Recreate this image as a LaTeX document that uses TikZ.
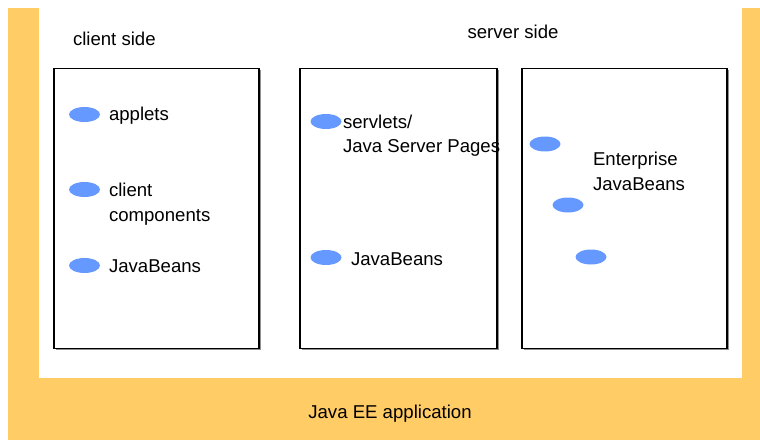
\documentclass[tikz,border=0pt]{standalone}
\usepackage{fontspec}
\setmainfont{Liberation Sans}
\usetikzlibrary{shapes.geometric}
\definecolor{frameorange}{HTML}{FFCC66}
\definecolor{beanblue}{HTML}{6699FF}
\definecolor{shadowgray}{HTML}{909090}
\begin{document}
\begin{tikzpicture}[x=1pt,y=-1pt,
  every node/.style={font=\fontsize{18.6}{24.5}\selectfont, inner sep=0pt, outer sep=0pt},
  lbl/.style={anchor=base west, align=left},
  bean/.style={fill=beanblue, draw=none, ellipse, minimum width=31pt, minimum height=15pt},
  tier/.style={draw=black, line width=1.6pt, fill=white}]
\useasboundingbox (0,0) rectangle (760,441);
\fill[white] (0,0) rectangle (760,441);
% application frame
\fill[frameorange] (8,8) rectangle (39,378);
\fill[frameorange] (742,8) rectangle (760,378);
\fill[frameorange] (8,378) rectangle (760,440);
\node[anchor=base] (app) at (390,418) {Java EE application};
% titles
\node[lbl] (clientside) at (73,46) {client side};
\node[anchor=base] (serverside) at (513,39) {server side};
% tier boxes with a light drop shadow
\foreach \xa/\xb in {54/259, 300/497, 522/727}{
  \draw[shadowgray, line width=1.2pt] (\xa+1.5,348.5+1.2) -- (\xb+1.5,348.5+1.2) -- (\xb+1.5,68.5+1.5);
}
\draw[tier] (54,68.5) rectangle (259,348.5);
\draw[tier] (300,68.5) rectangle (497,348.5);
\draw[tier] (522,68.5) rectangle (727,348.5);
% client tier (base anchor of a two-line label sits on its last line)
\node[bean] (b1) at (84.5,114.5) {};
\node[lbl] (applets) at (109,121) {applets};
\node[bean] (b2) at (84.5,189.5) {};
\node[lbl] (clientcomp) at (109,221) {client\\components};
\node[bean] (b3) at (84.5,265.5) {};
\node[lbl] (jb1) at (109,272) {JavaBeans};
% web tier
\node[bean] (b4) at (326,121.5) {};
\node[lbl] (servlets) at (343,153) {servlets/\\Java Server Pages};
\node[bean] (b5) at (326,257.5) {};
\node[lbl] (jb2) at (351,265) {JavaBeans};
% business tier
\node[bean] (b6) at (545,144) {};
\node[bean] (b7) at (568,205) {};
\node[bean] (b8) at (591,257) {};
\node[lbl] (ejb) at (593,190) {Enterprise\\JavaBeans};
\end{tikzpicture}
\end{document}
